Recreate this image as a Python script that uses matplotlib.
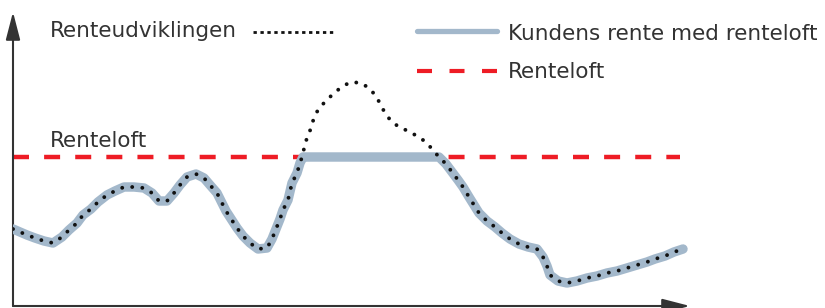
import numpy as np
import matplotlib
matplotlib.use('Agg')
import matplotlib.pyplot as plt

# renteudviklingen (tid, rente) - skematisk, uden enheder
tid = [0, 7, 14, 22, 31, 40, 49, 56, 64, 70, 78, 85, 94, 102, 111, 121, 131, 139, 146, 154,
       161, 167, 174, 183, 191, 197, 204, 213, 224, 230, 237, 245, 254, 259, 263, 267, 270, 275,
       279, 284, 287, 290, 292, 296, 299, 302, 307, 314, 321, 330, 338, 348, 356, 363, 372, 378,
       386, 395, 404, 413, 419, 426, 433, 439, 445, 450, 456, 461, 466, 474, 482, 489, 497, 506,
       515, 524, 530, 534, 537, 545, 554, 564, 574, 584, 594, 604, 614, 624, 634, 642, 652, 661, 670]
rente = [77, 74, 71, 68, 65, 63, 69, 76, 83, 91, 97, 104, 111, 115, 119, 119, 118, 113, 105, 105,
         113, 121, 129, 132, 128, 121, 113, 95, 78, 70, 63, 57, 58, 67, 77, 87, 96, 106,
         123, 133, 143, 152, 163, 172, 182, 191, 199, 206, 213, 220, 224, 223, 218, 210, 193, 185,
         179, 175, 170, 164, 157, 149, 142, 134, 126, 119, 109, 101, 93, 85, 79, 73, 67, 62,
         59, 57, 49, 40, 31, 25, 23, 25, 28, 30, 33, 35, 38, 41, 44, 47, 50, 54, 57]
renteloft = 149
loft_tid = [0, 667]

tid = np.array(tid)
rente = np.array(rente)
kunde = np.minimum(rente, renteloft)

blue = '#a3b8cb'
red = '#ee1c25'
txt = '#333333'

fig = plt.figure(figsize=(8.25, 3.08), dpi=100)
ax = fig.add_axes([13 / 825, 2 / 308, 677 / 825, 294 / 308])
ax.set_xlim(0, 677)
ax.set_ylim(0, 294)
ax.axis('off')

# akser med pile
for end in [(0, 1), (1, 0)]:
    ax.annotate('', xy=end, xytext=(0, 0), xycoords='axes fraction',
                arrowprops=dict(arrowstyle='-|>,head_length=0.85,head_width=0.22',
                                mutation_scale=20, color=txt, lw=1.5, shrinkA=0, shrinkB=0),
                annotation_clip=False)

ax.plot(loft_tid, [renteloft, renteloft], color=red, lw=3.2,
        linestyle=(0, (3.6, 3.4)), dash_capstyle='butt', zorder=2)
ax.plot(tid, kunde, color=blue, lw=6.8, solid_capstyle='round',
        solid_joinstyle='round', zorder=3)
ax.plot(tid, rente, color='#111111', lw=2.8, linestyle=(0, (0.01, 2.6)),
        dash_capstyle='round', zorder=4)

ax.text(37, 159, 'Renteloft', fontsize=15.5, color=txt, va='baseline')

# forklaring
ax.text(37, 269, 'Renteudviklingen', fontsize=15.5, color=txt, va='baseline', clip_on=False)
ax.plot([240, 320], [274, 274], color='#111111', lw=2.0, linestyle=(0, (1.2, 1.3)),
        clip_on=False)
ax.plot([404, 484], [275, 275], color=blue, lw=3.8, solid_capstyle='round', clip_on=False)
ax.text(495, 266, 'Kundens rente med renteloft', fontsize=15.5, color=txt,
        va='baseline', clip_on=False)
ax.plot([404, 484], [235, 235], color=red, lw=3.0, linestyle=(0, (3.6, 4.2)),
        dash_capstyle='butt', clip_on=False)
ax.text(495, 228, 'Renteloft', fontsize=15.5, color=txt, va='baseline', clip_on=False)

fig.savefig('out.png', dpi=100)
